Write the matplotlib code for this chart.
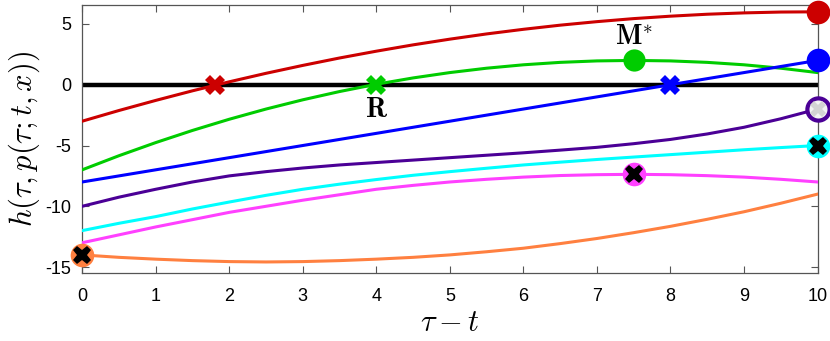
import numpy as np
import matplotlib
matplotlib.use("Agg")
import matplotlib.pyplot as plt

plt.rcParams['font.family'] = ['Liberation Sans', 'DejaVu Sans']
plt.rcParams['mathtext.fontset'] = 'cm'

# values (every half unit of tau - t)
tau = [0, 0.5, 1, 1.5, 2, 2.5, 3, 3.5, 4, 4.5, 5,
       5.5, 6, 6.5, 7, 7.5, 8, 8.5, 9, 9.5, 10]
h_red = [-3.0, -2.12, -1.29, -0.5, 0.24, 0.94, 1.59, 2.2, 2.76, 3.28, 3.75,
         4.18, 4.56, 4.9, 5.19, 5.44, 5.64, 5.8, 5.91, 5.98, 6.0]
h_green = [-7.0, -5.84, -4.76, -3.76, -2.84, -2.0, -1.24, -0.56, 0.04, 0.56, 1.0,
           1.36, 1.64, 1.84, 1.96, 2.0, 1.96, 1.84, 1.64, 1.36, 1.0]
h_blue = [-8.0, -7.5, -7.0, -6.5, -6.0, -5.5, -5.0, -4.5, -4.0, -3.5, -3.0,
          -2.5, -2.0, -1.5, -1.0, -0.5, 0.0, 0.5, 1.0, 1.5, 2.0]
h_purple = [-10.0, -9.25, -8.6, -8.0, -7.5, -7.15, -6.85, -6.6, -6.4, -6.2, -6.0,
            -5.8, -5.6, -5.38, -5.15, -4.85, -4.5, -4.05, -3.5, -2.8, -2.0]
h_cyan = [-12.0, -11.4, -10.85, -10.22, -9.65, -9.1, -8.6, -8.18, -7.8, -7.45, -7.15,
          -6.87, -6.6, -6.37, -6.15, -5.95, -5.75, -5.55, -5.35, -5.17, -5.0]
h_magenta = [-13.0, -12.35, -11.7, -11.1, -10.5, -10.0, -9.5, -9.05, -8.6, -8.28, -8.0,
             -7.78, -7.6, -7.47, -7.4, -7.37, -7.4, -7.48, -7.6, -7.78, -8.0]
h_orange = [-14.0, -14.2, -14.35, -14.47, -14.55, -14.58, -14.55, -14.47, -14.35, -14.2, -14.0,
            -13.74, -13.45, -13.07, -12.65, -12.17, -11.65, -11.07, -10.45, -9.75, -9.0]

col_red = '#cc0000'
col_green = '#00cc00'
col_blue = '#0000ff'
col_purple = '#4b0096'
col_cyan = '#00ffff'
col_magenta = '#ff40ff'
col_orange = '#ff8040'

fig = plt.figure(figsize=(8.3, 3.41), dpi=100)
ax = fig.add_axes([0.099, 0.199, 0.886, 0.786])

lw = 2.2
ax.plot([0, 10], [0, 0], color='black', lw=3.2, zorder=2)
ax.plot(tau, h_red, color=col_red, lw=lw, zorder=3)
ax.plot(tau, h_green, color=col_green, lw=lw, zorder=3)
ax.plot(tau, h_blue, color=col_blue, lw=lw, zorder=3)
ax.plot(tau, h_purple, color=col_purple, lw=lw, zorder=3)
ax.plot(tau, h_cyan, color=col_cyan, lw=lw, zorder=3)
ax.plot(tau, h_magenta, color=col_magenta, lw=lw, zorder=3)
ax.plot(tau, h_orange, color=col_orange, lw=lw, zorder=3)

# zero crossings
ax.plot(1.8, 0, 'X', color=col_red, ms=14, mew=0, zorder=5)
ax.plot(4, 0, 'X', color=col_green, ms=14, mew=0, zorder=5)
ax.plot(8, 0, 'X', color=col_blue, ms=14, mew=0, zorder=5)

# end points / maxima
ms = 17
ax.plot(10, 6, 'o', color=col_red, ms=ms, mew=0, zorder=6, clip_on=False)
ax.plot(10, 2, 'o', color=col_blue, ms=ms, mew=0, zorder=6, clip_on=False)
ax.plot(7.5, 2, 'o', color=col_green, ms=16, mew=0, zorder=6)
ax.plot(10, -2, 'o', mfc='#f4f4f4', mec=col_purple, mew=3, ms=16, zorder=6, clip_on=False)
ax.plot(10, -2, 'X', color='#d4d4d4', ms=12, mew=0, zorder=7, clip_on=False)
ax.plot(10, -5, 'o', color=col_cyan, ms=ms, mew=0, zorder=6, clip_on=False)
ax.plot(10, -5, 'X', color='black', ms=13, mew=0, zorder=7, clip_on=False)
ax.plot(7.5, -7.35, 'o', color=col_magenta, ms=ms, mew=0, zorder=6)
ax.plot(7.5, -7.35, 'X', color='black', ms=13, mew=0, zorder=7)
ax.plot(0, -14, 'o', color=col_orange, ms=ms, mew=0, zorder=6, clip_on=False)
ax.plot(0, -14, 'X', color='black', ms=13, mew=0, zorder=7, clip_on=False)

ax.text(7.5, 3.9, r'$\mathbf{M}^{*}$', fontsize=20, ha='center', va='center')
ax.text(4, -2.1, r'$\mathbf{R}$', fontsize=20, ha='center', va='center')

ax.set_xlim(0, 10)
ax.set_ylim(-15.5, 6.55)
ax.set_xticks(range(0, 11))
ax.set_yticks([-15, -10, -5, 0, 5])
ax.set_yticklabels(['-15', '-10', '-5', '0', '5'])
ax.tick_params(direction='in', length=5, width=0.8, color='#555555',
               labelsize=13, top=True, right=True, pad=8)
ax.tick_params(axis='x', pad=11)
for s in ax.spines.values():
    s.set_color('#555555')
    s.set_linewidth(0.9)

ax.set_xlabel(r'$\tau - t$', fontsize=22, labelpad=2)
ax.set_ylabel(r'$h(\tau, p(\tau; t, x))$', fontsize=22, labelpad=2)

fig.savefig('out.png', dpi=100)
